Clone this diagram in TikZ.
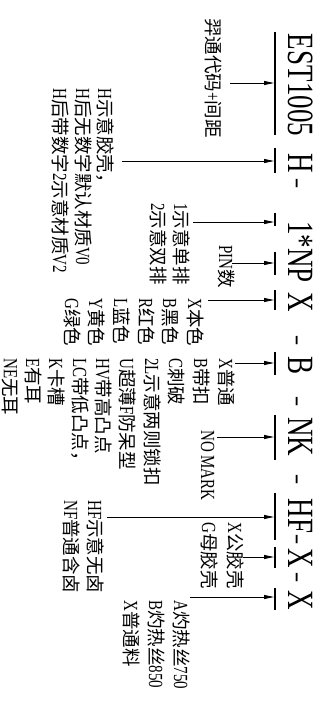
\documentclass[tikz,border=0pt]{standalone}
\usepackage{fontspec}
\setmainfont{Liberation Serif}
\newfontfamily\cjk{Noto Sans CJK SC}
\newfontfamily\latlab[FakeStretch=0.75]{Liberation Serif}
\newfontfamily\lattitle[FakeStretch=0.73]{Liberation Serif}
\usetikzlibrary{arrows.meta}
\newcommand\zh[1]{{\cjk\fontsize{18.5}{22}\selectfont #1}}
\newcommand\dsh{\scalebox{0.6}[1]{–}}
\begin{document}
\begin{tikzpicture}[x=1pt,y=-1pt,
  seg/.style={line width=1.6pt},
  arr/.style={line width=0.8pt,-{Triangle[length=10pt,width=4pt]},shorten >=1pt},
  ttl/.style={rotate=-90,anchor=base,inner sep=0pt,font=\lattitle\fontsize{37}{40}\selectfont},
  lab/.style={rotate=-90,anchor=base west,inner sep=0pt,font=\latlab\fontsize{20}{22}\selectfont}]
\useasboundingbox (0,0) rectangle (326,708);
% title
\node[ttl] (t0) at (288,85) {EST1005};
\node[ttl] (t1) at (288,163) {H};
\node[ttl] (t2) at (288,184) {\dsh};
\node[ttl] (t3) at (288,252) {1*NP};
\node[ttl] (t4) at (288,302) {X};
\node[ttl] (t5) at (288,341) {\dsh};
\node[ttl] (t6) at (288,366) {B};
\node[ttl] (t7) at (288,402) {\dsh};
\node[ttl] (t8) at (288,437) {NK};
\node[ttl] (t9) at (288,480) {\dsh};
\node[ttl] (t10) at (288,516) {HF};
\node[ttl] (t11) at (288,540) {\dsh};
\node[ttl] (t12) at (288,558) {X};
\node[ttl] (t13) at (288,578) {\dsh};
\node[ttl] (t14) at (288,600) {X};
% underline segments
\coordinate (s0a) at (275,32);  \coordinate (s0b) at (275,135);
\coordinate (s1a) at (275,148); \coordinate (s1b) at (275,173);
\coordinate (s2a) at (275,213); \coordinate (s2b) at (275,226);
\coordinate (s3a) at (275,252); \coordinate (s3b) at (275,275);
\coordinate (s4a) at (275,290); \coordinate (s4b) at (275,310);
\coordinate (s5a) at (275,352); \coordinate (s5b) at (275,375);
\coordinate (s6a) at (275,415); \coordinate (s6b) at (275,460);
\coordinate (s7a) at (275,493); \coordinate (s7b) at (275,540);
\coordinate (s8a) at (275,547); \coordinate (s8b) at (275,568);
\coordinate (s9a) at (275,588); \coordinate (s9b) at (275,610);
\foreach \i in {0,...,9} {\draw[seg] (s\i a) -- (s\i b);}
% labels
\node[lab] (l0) at (206,18) {\zh{羿通代码}+\zh{间距}};
\node[lab] (l1a) at (98,88) {H\zh{示意胶壳，}};
\node[lab] (l1b) at (76,88) {H\zh{后无数字默认材质}V0};
\node[lab] (l1c) at (53,88) {H\zh{后带数字}2\zh{示意材质}V2};
\node[lab] (l2a) at (174,203) {1\zh{示意单排}};
\node[lab] (l2b) at (151,203) {2\zh{示意双排}};
\node[lab] (l3) at (219,245) {PIN\zh{数}};
\node[lab] (l4a) at (188,298) {X\zh{本色}};
\node[lab] (l4b) at (163,298) {B\zh{黑色}};
\node[lab] (l4c) at (139,298) {R\zh{红色}};
\node[lab] (l4d) at (114,298) {L\zh{蓝色}};
\node[lab] (l4e) at (89,298) {Y\zh{黄色}};
\node[lab] (l4f) at (65,298) {G\zh{绿色}};
\node[lab] (l5a) at (219,358) {X\zh{普通}};
\node[lab] (l5b) at (194,358) {B\zh{带扣}};
\node[lab] (l5c) at (169,358) {C\zh{刺破}};
\node[lab] (l5d) at (145,358) {2L\zh{示意两则锁扣}};
\node[lab] (l5e) at (120,358) {U\zh{超薄}F\zh{防呆型}};
\node[lab] (l5f) at (96,358) {HV\zh{带高凸点}};
\node[lab] (l5g) at (73,358) {LC\zh{带低凸点，}};
\node[lab] (l5h) at (49,358) {K\zh{卡槽}};
\node[lab] (l5i) at (26,358) {E\zh{有耳}};
\node[lab] (l5j) at (4,358) {NE\zh{无耳}};
\node[lab] (l6) at (201,430) {NO MARK};
\node[lab] (l7a) at (88,500) {HF\zh{示意无卤}};
\node[lab] (l7b) at (64,500) {NF\zh{普通含卤}};
\node[lab] (l8a) at (228,522) {X\zh{公胶壳}};
\node[lab] (l8b) at (202,522) {G\zh{母胶壳}};
\node[lab] (l9a) at (174,600) {A\zh{灼热丝}750};
\node[lab] (l9b) at (149,600) {B\zh{灼热丝}850};
\node[lab] (l9c) at (124,600) {X\zh{普通料}};
% arrows
\coordinate (a0) at (230,83);
\coordinate (a1) at (122,161);
\coordinate (a2) at (193,222);
\coordinate (a3) at (232,263);
\coordinate (a4) at (208,300);
\coordinate (a5) at (235,363);
\coordinate (a6) at (217,437);
\coordinate (a7) at (107,517);
\coordinate (a8) at (243,557);
\coordinate (a9) at (190,597);
\foreach \i in {0,...,9} {\draw[arr] (a\i) -- (a\i -| s\i a);}
\end{tikzpicture}
\end{document}
